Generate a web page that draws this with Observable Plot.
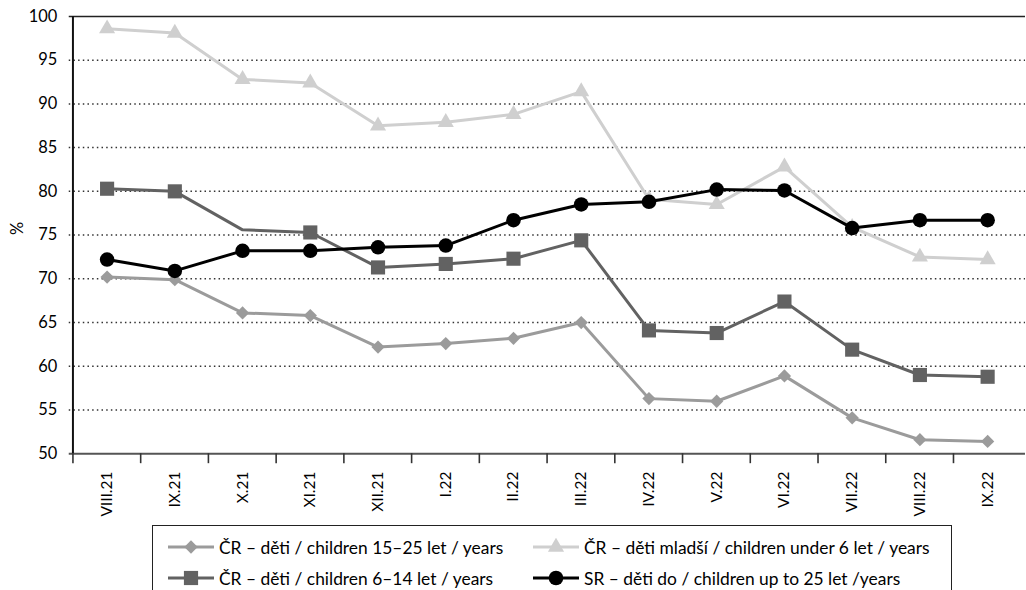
<!DOCTYPE html>
<html>
<head>
<meta charset="utf-8">
<script src="https://cdn.jsdelivr.net/npm/d3@7"></script>
<script src="https://cdn.jsdelivr.net/npm/@observablehq/plot@0.6"></script>
<style>
  html, body { margin: 0; padding: 0; background: #fff; overflow: hidden; }
  #wrap { position: relative; width: 1026px; height: 590px; overflow: hidden; }
  #legend { position: absolute; left: 152px; top: 525px; width: 800px; height: 90px;
            border: 1.5px solid #222; box-sizing: border-box; font-family: Lato, sans-serif; font-size: 17.4px; color: #000; }
  .item { position: absolute; display: flex; align-items: center; white-space: nowrap; height: 20px; }
  .item svg { margin-right: 5px; }
</style>
</head>
<body>
<div id="wrap"><div id="chart"></div><div id="legend"></div></div>
<script>
// ---- data ----
const months = ["VIII.21","IX.21","X.21","XI.21","XII.21","I.22","II.22","III.22","IV.22","V.22","VI.22","VII.22","VIII.22","IX.22"];
const cz15to25 = [70.2, 69.9, 66.1, 65.8, 62.2, 62.6, 63.2, 65.0, 56.3, 56.0, 58.9, 54.1, 51.6, 51.4];
const cz6to14  = [80.3, 80.0, 75.6, 75.3, 71.3, 71.7, 72.3, 74.4, 64.1, 63.8, 67.4, 61.9, 59.0, 58.8];
const czUnder6 = [98.6, 98.1, 92.8, 92.4, 87.5, 87.9, 88.8, 91.4, 79.1, 78.5, 82.8, 75.9, 72.5, 72.2];
const srUpTo25 = [72.2, 70.9, 73.2, 73.2, 73.6, 73.8, 76.7, 78.5, 78.8, 80.2, 80.1, 75.8, 76.7, 76.7];
const cz6to14NoMarker = ["X.21"];
const seriesNames = [
  "ČR – děti / children 15–25 let / years",
  "ČR – děti / children 6–14 let / years",
  "ČR – děti mladší / children under 6 let / years",
  "SR – děti do / children up to 25 let /years"
];
const yTicks = [50, 55, 60, 65, 70, 75, 80, 85, 90, 95, 100];

// ---- styles ----
const seriesValues = [cz15to25, cz6to14, czUnder6, srUpTo25];
const seriesColors = ["#9b9b9b", "#626262", "#cfcfcf", "#000000"];
const seriesSymbols = ["diamond2", "square", "triangle", "circle"];
const seriesR = [6.0, 8.0, 6.0, 7.3];
const noMarker = [[], cz6to14NoMarker, [], []];

const rows = seriesNames.flatMap((name, s) =>
  months.map((m, i) => ({series: name, s, month: m, value: seriesValues[s][i]})));

const W = 1030, H = 520, ML = 69, MR = 1, MT = 16, MB = 65;
const bw = (W - ML - MR) / months.length;

const marks = [
  Plot.gridY(yTicks.filter(v => v > 50 && v < 100), {stroke: "#333", strokeOpacity: 1, strokeWidth: 1.5, strokeDasharray: "1.5,3.2"}),
  Plot.ruleY([100], {stroke: "#222", strokeWidth: 1.5}),
  Plot.ruleY([50], {stroke: "#555", strokeWidth: 2}),
  Plot.ruleX([months[0]], {dx: -bw / 2, y1: 50, y2: 100, stroke: "#111", strokeWidth: 2}),
  Plot.axisX({tickSize: 10, dx: -bw / 2, tickFormat: () => "", stroke: "#333", strokeWidth: 1.6, label: null}),
  Plot.axisX({tickSize: 0, tickRotate: -90, tickPadding: 18, fontSize: 15.5, fill: "#000", label: null}),
  Plot.axisY(yTicks, {tickSize: 0, tickPadding: 12, fontSize: 16.5, fill: "#000", label: null}),
  Plot.text(["%"], {text: d => d, frameAnchor: "left", dx: -52, rotate: -90, fontSize: 16.5, fill: "#000"})
];
seriesNames.forEach((name, s) => {
  const data = rows.filter(d => d.s === s);
  marks.push(Plot.line(data, {x: "month", y: "value", stroke: seriesColors[s], strokeWidth: 3}));
  marks.push(Plot.dot(data.filter(d => !noMarker[s].includes(d.month)),
    {x: "month", y: "value", symbol: seriesSymbols[s], r: seriesR[s], fill: seriesColors[s], stroke: "none"}));
});

const chart = Plot.plot({
  width: W, height: H, marginLeft: ML, marginRight: MR, marginTop: MT, marginBottom: MB,
  style: {fontFamily: "Lato, sans-serif", fontSize: "16px", color: "#000", background: "white", overflow: "visible"},
  x: {type: "band", domain: months, padding: 0},
  y: {domain: [50, 100]},
  marks
});
document.getElementById("chart").append(chart);

// ---- legend ----
const legend = d3.select("#legend");
const legendPos = [[15, 11], [15, 42], [380, 11], [380, 42]];
seriesNames.forEach((name, s) => {
  const it = legend.append("div").attr("class", "item")
    .style("left", legendPos[s][0] + "px").style("top", legendPos[s][1] + "px");
  const svg = it.append("svg").attr("width", 46).attr("height", 18);
  svg.append("line").attr("x1", 0).attr("x2", 46).attr("y1", 9).attr("y2", 9)
    .attr("stroke", seriesColors[s]).attr("stroke-width", 3);
  const symMap = {diamond2: d3.symbolDiamond2, square: d3.symbolSquare, triangle: d3.symbolTriangle, circle: d3.symbolCircle};
  svg.append("path").attr("transform", "translate(23,9)")
    .attr("d", d3.symbol(symMap[seriesSymbols[s]], Math.PI * seriesR[s] * seriesR[s])())
    .attr("fill", seriesColors[s]);
  it.append("span").text(name);
});
</script>
</body>
</html>
